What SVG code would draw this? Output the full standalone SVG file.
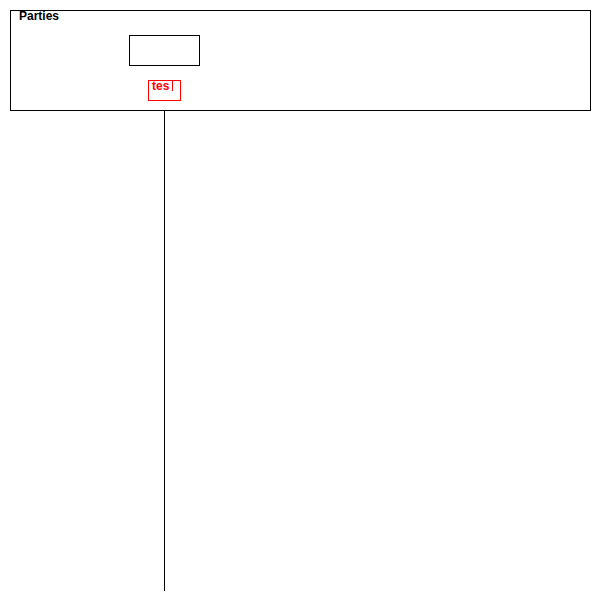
<svg xmlns="http://www.w3.org/2000/svg" width="600" height="600" viewBox="0 0 600 600">
<style>
.box{fill:none;stroke:#000;stroke-width:1}
.lbl{font-family:"Liberation Sans",Arial,sans-serif;font-size:12px;font-weight:bold}
</style>
<rect width="600" height="600" fill="#fff"/>
<g id="parties">
<rect class="box" x="10.5" y="10.5" width="580" height="100"/>
<text class="lbl" x="19" y="20">Parties</text>
</g>
<g id="party-box">
<rect class="box" x="129.5" y="35.5" width="70" height="30"/>
</g>
<g id="edit-label">
<rect x="148.5" y="80.5" width="32" height="20" fill="none" stroke="#f00" stroke-width="1"/>
<text class="lbl" x="152" y="90" fill="#f00">tes</text>
<line x1="172.5" y1="81" x2="172.5" y2="91" stroke="#f00" stroke-width="1"/>
</g>
<g id="connectors">
<line x1="164.5" y1="110.5" x2="164.5" y2="591" stroke="#000" stroke-width="1"/>
</g>
</svg>
